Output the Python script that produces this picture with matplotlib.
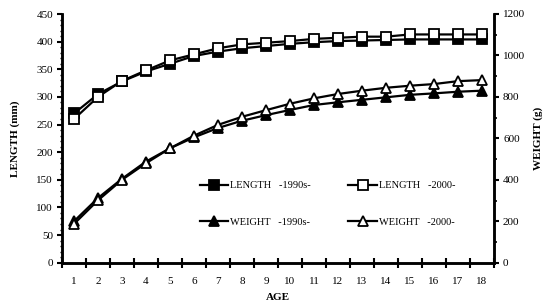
import matplotlib
matplotlib.use("Agg")
import matplotlib.pyplot as plt
from matplotlib.ticker import MultipleLocator, FixedLocator, NullFormatter

plt.rcParams['font.family'] = ['Liberation Serif', 'DejaVu Serif']

ages = list(range(1, 19))
length_1990s = [270, 305, 328, 346, 360, 374, 382, 388, 392, 396, 399, 401, 402, 403, 404, 404, 404, 404]
length_2000 = [260, 300, 329, 348, 366, 377, 388, 395, 398, 401, 405, 407, 409, 409, 413, 413, 413, 413]
weight_1990s = [200, 312, 405, 488, 552, 605, 650, 685, 712, 737, 761, 774, 786, 798, 810, 817, 825, 830]
weight_2000 = [187, 301, 400, 480, 552, 613, 665, 704, 736, 767, 793, 814, 830, 844, 854, 862, 876, 881]

fig = plt.figure(figsize=(5.47, 3.06), dpi=100)
ax = fig.add_axes([62/547, 1-262.7/306, (494-62)/547, (262.7-14)/306])
ax2 = ax.twinx()

lw = 1.6
kw = dict(color='black', mec='black', lw=lw, ms=6.5, mew=1.3)
l1, = ax.plot(ages, length_1990s, '-s', mfc='black', label='LENGTH   -1990s-', **kw)
l2, = ax.plot(ages, length_2000, '-s', mfc='white', label='LENGTH   -2000-', **kw)
w1, = ax2.plot(ages, weight_1990s, '-^', mfc='black', label='WEIGHT   -1990s-', **kw)
w2, = ax2.plot(ages, weight_2000, '-^', mfc='white', label='WEIGHT   -2000-', **kw)

ax.set_xlim(0.5, 18.5)
ax.set_ylim(0, 450)
ax2.set_ylim(0, 1200)

ax.xaxis.set_major_locator(FixedLocator([i + 0.5 for i in range(0, 19)]))
ax.xaxis.set_major_formatter(NullFormatter())
ax.xaxis.set_minor_locator(FixedLocator(ages))
ax.set_xticklabels([str(a) for a in ages], minor=True)
ax.tick_params(axis='x', which='major', direction='inout', length=7, width=1.5)
ax.tick_params(axis='x', which='minor', length=0, pad=10, labelsize=8)

ax.yaxis.set_major_locator(MultipleLocator(50))
ax.yaxis.set_minor_locator(MultipleLocator(10))
ax.tick_params(axis='y', which='major', direction='out', length=3.5, width=1.5, labelsize=8, pad=3)
ax.tick_params(axis='y', which='minor', direction='out', length=1.8, width=1)

ax2.yaxis.set_major_locator(MultipleLocator(200))
ax2.yaxis.set_minor_locator(MultipleLocator(100))
ax2.tick_params(axis='y', which='major', direction='out', length=3.5, width=1.5, labelsize=8, pad=3)
ax2.tick_params(axis='y', which='minor', direction='out', length=2.5, width=1.2)

for a in (ax, ax2):
    a.spines['top'].set_visible(False)
    for s in ('left', 'right', 'bottom'):
        a.spines[s].set_linewidth(1.8)

ax.set_ylabel('LENGTH (mm)', fontsize=8, fontweight='bold', labelpad=12)
ax2.set_ylabel('WEIGHT (g)', fontsize=8, fontweight='bold', rotation=90, labelpad=6)
ax.set_xlabel('AGE', fontsize=8, fontweight='bold', labelpad=5)

leg = ax2.legend(handles=[l1, w1, l2, w2], ncol=2, frameon=False, fontsize=7.5,
                 loc='upper left', bbox_to_anchor=(200/547, 1-181/306), bbox_transform=fig.transFigure,
                 handlelength=2.7, handletextpad=0.2, columnspacing=3.6, labelspacing=2.6,
                 borderaxespad=0, borderpad=0)

fig.savefig('out.png', dpi=100)
